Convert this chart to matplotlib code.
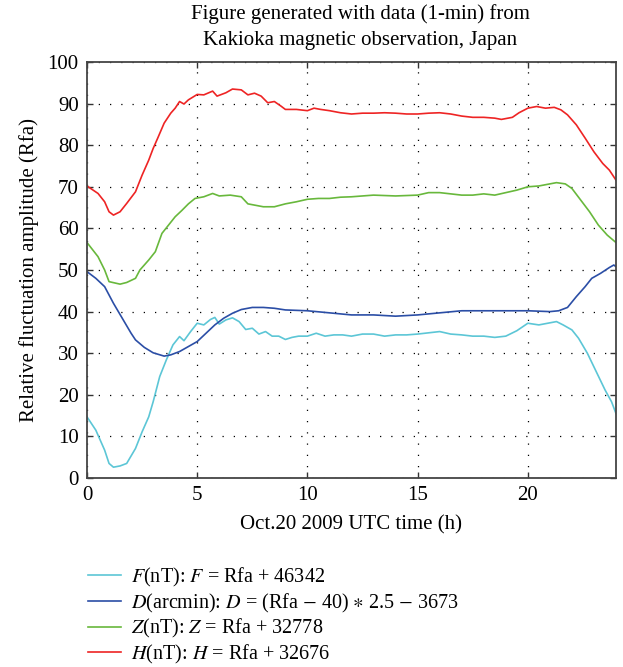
import numpy as np
import matplotlib
matplotlib.use("Agg")
import matplotlib.pyplot as plt

plt.rcParams["font.family"] = ["Liberation Serif", "DejaVu Serif"]
plt.rcParams["mathtext.fontset"] = "stix"

# hours / relative fluctuation amplitude (Rfa)
f_h = [0, 0.4, 0.8, 1.0, 1.2, 1.5, 1.8, 2.2, 2.5, 2.8, 3.0, 3.3, 3.6, 3.9, 4.2, 4.4, 4.7,
       5.0, 5.3, 5.6, 5.8, 6.0, 6.3, 6.6, 6.9, 7.2, 7.5, 7.8, 8.1, 8.4, 8.7, 9.0, 9.3, 9.6,
       10, 10.4, 10.8, 11.2, 11.6, 12, 12.5, 13, 13.5, 14, 14.5, 15, 15.5, 16, 16.5, 17,
       17.5, 18, 18.5, 19, 19.5, 20, 20.5, 21, 21.3, 21.6, 22, 22.3, 22.7, 23.1, 23.5, 23.8, 24]
f_v = [14.7, 11.5, 6.7, 3.5, 2.6, 2.9, 3.5, 7.1, 11.1, 14.7, 18.3, 24.4, 28.4, 32, 34, 33, 35.2,
       37.2, 36.8, 38.1, 38.6, 37, 38, 38.5, 37.6, 35.7, 36, 34.6, 35.2, 34.1, 34.1, 33.3, 33.8, 34.1,
       34.1, 34.8, 34.1, 34.4, 34.4, 34.1, 34.6, 34.6, 34.1, 34.4, 34.4, 34.6, 34.9, 35.2, 34.6, 34.4,
       34.1, 34.1, 33.8, 34.1, 35.4, 37.2, 36.8, 37.3, 37.6, 36.8, 35.6, 33.6, 30, 25.6, 21.2, 18.3, 15.5]

d_h = [0, 0.4, 0.8, 1.2, 1.6, 2.0, 2.2, 2.6, 3.0, 3.5, 3.8, 4.2, 4.6, 5.0, 5.4, 5.8, 6.2, 6.6,
       7.0, 7.5, 8.0, 8.5, 9.0, 10, 11, 12, 13, 14, 15, 16, 17, 18, 19, 20, 21, 21.4, 21.8,
       22.2, 22.6, 22.9, 23.3, 23.7, 23.9, 24]
d_v = [49.6, 48, 46, 42, 38.4, 34.8, 33.2, 31.4, 30.1, 29.3, 29.6, 30.4, 31.6, 32.8, 34.8, 36.8, 38.4, 39.6,
       40.5, 41, 41, 40.8, 40.4, 40.2, 39.7, 39.2, 39.2, 38.9, 39.2, 39.7, 40.2, 40.2, 40.2, 40.2, 40, 40.2, 41,
       43.6, 46, 48, 49.2, 50.6, 51.2, 50.8]

z_h = [0, 0.5, 0.8, 1.0, 1.5, 1.8, 2.2, 2.4, 2.8, 3.1, 3.4, 3.7, 4.0, 4.3, 4.6, 4.9, 5.3, 5.7,
       6.0, 6.5, 7.0, 7.3, 7.6, 8.0, 8.5, 9.0, 9.5, 10, 10.5, 11, 11.5, 12, 13, 14, 15, 15.5,
       16, 17, 17.5, 18, 18.5, 19, 19.5, 20, 20.5, 21, 21.3, 21.7, 22.0, 22.4, 22.8, 23.2, 23.6, 24]
z_v = [56.6, 53.2, 50, 47.2, 46.6, 47, 48, 50, 52.4, 54.4, 58.8, 60.8, 62.8, 64.3, 65.9, 67.2, 67.6, 68.4,
       67.8, 68, 67.6, 65.9, 65.6, 65.2, 65.2, 65.9, 66.4, 67, 67.2, 67.2, 67.5, 67.6, 68, 67.8, 68, 68.6,
       68.6, 68, 68, 68.3, 68, 68.6, 69.2, 70, 70.2, 70.7, 71, 70.7, 69.6, 66.8, 64, 60.8, 58.4, 56.6]

h_h = [0, 0.5, 0.8, 1.0, 1.2, 1.5, 1.8, 2.2, 2.5, 2.8, 3.0, 3.2, 3.5, 3.8, 4.0, 4.2, 4.4, 4.6,
       5.0, 5.3, 5.7, 5.9, 6.3, 6.6, 7.0, 7.3, 7.6, 7.9, 8.2, 8.5, 8.8, 9.0, 9.5, 10.0, 10.3,
       10.6, 11.0, 11.5, 12, 12.5, 13, 13.5, 14, 14.5, 15, 15.5, 16, 16.5, 17, 17.5, 18, 18.5,
       18.8, 19.3, 19.6, 20, 20.4, 20.8, 21.2, 21.5, 21.8, 22.2, 22.6, 23.0, 23.4, 23.7, 24]
h_v = [70.2, 68.4, 66.4, 64, 63.2, 64, 66, 68.8, 72.8, 76.4, 79.2, 81.6, 85.3, 87.7, 88.9, 90.5, 89.9, 90.9,
       92.2, 92.1, 93, 91.8, 92.6, 93.5, 93.3, 92.1, 92.5, 91.8, 90.2, 90.5, 89.4, 88.6, 88.6, 88.3, 88.9,
       88.6, 88.3, 87.8, 87.5, 87.7, 87.7, 87.8, 87.7, 87.5, 87.5, 87.7, 87.8, 87.5, 87, 86.7, 86.7, 86.5,
       86.2, 86.7, 87.8, 88.9, 89.3, 88.9, 89.1, 88.5, 87.3, 84.9, 81.7, 78.4, 75.6, 74, 71.6]

labels = [r"$F$(nT): $F$ = Rfa + 46342",
          r"$D$(arcmin): $D$ = (Rfa $-$ 40) $\ast$ 2.5 $-$ 3673",
          r"$Z$(nT): $Z$ = Rfa + 32778",
          r"$H$(nT): $H$ = Rfa + 32676"]
colors = ["#5cc6d6", "#2b4ea6", "#68b83c", "#ee2424"]

fig = plt.figure(figsize=(6.23, 6.67), dpi=100)
ax = fig.add_axes([87 / 623, 1 - 478 / 667, 529 / 623, 416 / 667])

series = [(f_h, f_v), (d_h, d_v), (z_h, z_v), (h_h, h_v)]
handles = []
for (hx, hy), c in zip(series, colors):
    ln, = ax.plot(hx, hy, color=c, lw=1.2)
    handles.append(ln)

ax.set_xlim(0, 24)
ax.set_ylim(0, 100)
ax.set_xticks([0, 5, 10, 15, 20])
ax.set_yticks(np.arange(0, 101, 10))
ax.grid(True, color="black", linestyle=(0, (1, 8)), linewidth=0.9)
ax.tick_params(direction="in", top=True, right=True, length=4, width=1,
               labelsize=15, pad=6, colors="#333333", labelcolor="black")
for s in ax.spines.values():
    s.set_color("#444444")
    s.set_linewidth(1.3)

ax.set_xlabel("Oct.20 2009 UTC time (h)", fontsize=15, labelpad=7)
ax.set_ylabel("Relative fluctuation amplitude (Rfa)", fontsize=15, labelpad=6)

fig.text(0.578, 0.959, "Figure generated with data (1-min) from\nKakioka magnetic observation, Japan",
         ha="center", va="center", fontsize=15, linespacing=1.5)

fig.legend(handles, labels, loc="upper left", bbox_to_anchor=(88 / 623, 1 - 566 / 667),
           frameon=False, fontsize=14.5, handlelength=1.65, handletextpad=0.5,
           labelspacing=0.13, borderpad=0, borderaxespad=0)

fig.savefig("out.png", dpi=100)
